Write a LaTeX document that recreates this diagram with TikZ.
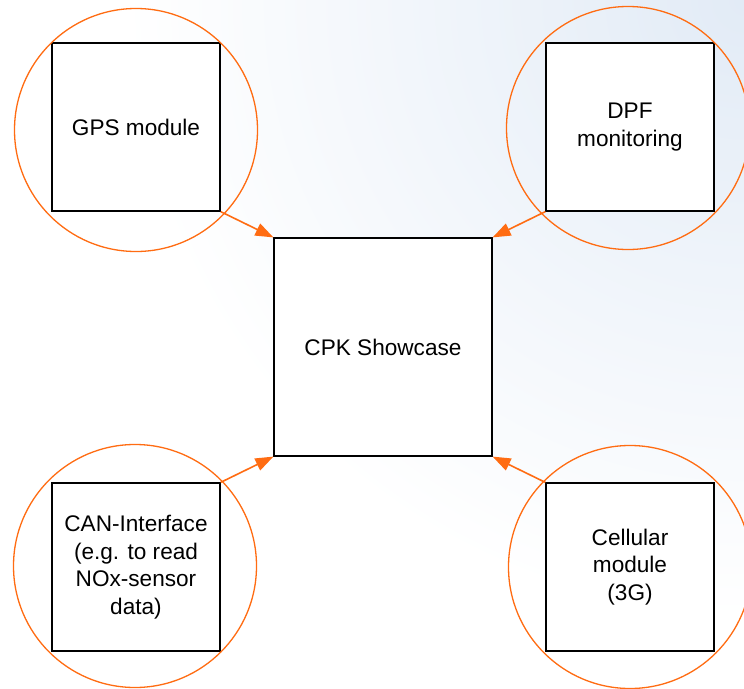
\documentclass[tikz,border=0pt]{standalone}
\usepackage{fontspec}
\setmainfont{Liberation Sans}
\usetikzlibrary{arrows.meta}
\usetikzlibrary{positioning}

\definecolor{ringorange}{RGB}{255,108,18}
\definecolor{skytint}{RGB}{226,235,246}

\begin{document}
\begin{tikzpicture}[x=1pt, y=-1pt,
            part/.style = {draw, line width=1.2pt, fill=white,
                minimum size=168pt, inner sep=0pt, align=center,
                font=\fontsize{22.6}{27.5}\selectfont},
            hub/.style = {part, minimum size=218pt},
            ring/.style = {draw=ringorange, line width=1.3pt,
                circle, minimum size=243pt, inner sep=0pt},
            feed/.style = {color=ringorange, line width=1.6pt,
                -{Triangle[length=18pt,width=13pt]}}]
            % backdrop with a soft tint in the upper right corner
            \useasboundingbox (0,0) rectangle (744,688);
            \begin{scope}
                \clip (0,0) rectangle (744,688);
                \fill[white] (0,0) rectangle (744,688);
                \shade[inner color=skytint, outer color=white] (744,0) circle (620);
            \end{scope}
            % centre block
            \node[hub] (cpk) at (383,347) {CPK Showcase};
            % the four add-on modules
            \node[part] (gps) at (136,127) {GPS module};
            \node[part] (dpf) at (630,127) {DPF\\monitoring};
            \node[part] (can) at (136,567) {CAN-Interface\\(e.g. to read\\NOx-sensor\\data)};
            \node[part] (cell) at (630,567) {Cellular\\module\\(3G)};
            % rings round the modules
            \node[ring] (gpsring) at (136,130) {};
            \node[ring] (dpfring) at (628,128) {};
            \node[ring] (canring) at (135,566) {};
            \node[ring] (cellring) at (630,567) {};
            \path
                (gps.south east) edge[feed] (cpk.north west)
                (dpf.south west) edge[feed] (cpk.north east)
                (can.north east) edge[feed] (cpk.south west)
                (cell.north west) edge[feed] (cpk.south east);
        \end{tikzpicture}
\end{document}
